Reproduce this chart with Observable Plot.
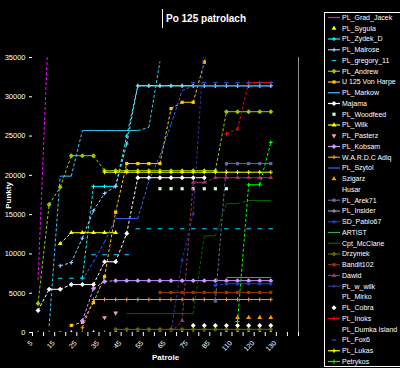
<!DOCTYPE html>
<html><head><meta charset="utf-8">
<script src="https://cdn.jsdelivr.net/npm/d3@7"></script>
<script src="https://cdn.jsdelivr.net/npm/@observablehq/plot@0.6"></script>
<style>
html,body{margin:0;padding:0;background:#000;}
#wrap{position:relative;width:400px;height:368px;overflow:hidden;background:#000;font-family:Arial,"Liberation Sans",sans-serif;color:#fff;}
#wrap svg{position:absolute;left:0;top:0;}
#title{position:absolute;left:162px;top:9px;height:19px;border-left:1px solid #fff;padding-left:3px;font-weight:bold;font-size:10px;line-height:20px;white-space:nowrap;}
#xlab{position:absolute;left:152px;top:353px;font-weight:bold;font-size:8px;}
#ylab{position:absolute;left:-8px;top:191px;width:32px;text-align:center;font-weight:bold;font-size:8px;transform:rotate(-90deg);}
</style></head><body>
<div id="wrap">
  <div id="title">Po 125 patrolach</div>
  <div id="xlab">Patrole</div>
  <div id="ylab">Punkty</div>
</div>
<script>
const _ = null;
// categories (patrol counts) and axis ticks
const patrols = [5,10,15,20,25,30,35,40,45,50,55,60,65,70,75,80,85,100,110,115,120,125,130,135];
const yTicks = [0,5000,10000,15000,20000,25000,30000,35000];

// series values, one per category (null = no point)
const gradJacek = [6700,41000,_,_,_,_,_,_,_,_,_,_,_,_,_,_,_,_,_,_,_,_,_,_];
const sygula    = [_,_,_,0,_,0,_,0,_,_,_,_,_,0,_,_,_,0,0,0,0,0,_,_];
const zydekD    = [_,_,_,_,6900,18600,18600,18600,25000,31400,31400,31400,31400,31400,31400,31400,31400,31400,31400,31400,31400,31400,_,_];
const malrose   = [_,_,8500,8900,12000,15500,17700,18600,24000,31400,31400,31400,31400,31400,31400,31400,31400,31400,31400,31400,31400,31400,_,_];
const gregory11 = [_,_,6900,6900,6900,9900,9900,9900,9900,13200,13200,13200,13200,13200,13200,13200,13200,13200,13200,13200,13200,13200,_,_];
const andrew    = [3700,16300,18500,22500,22500,22500,20600,20600,20600,20600,20600,20600,20600,20600,20600,20600,20600,28100,28100,28100,28100,28100,_,_];
const vonHarpe  = [_,_,_,900,1300,3800,7100,15300,21500,21500,21500,21500,28500,29300,29300,34400,40000,_,_,_,_,_,_,_];
const markow    = [_,800,19900,19900,25700,25700,25700,25700,25700,25700,26100,34500,_,_,_,_,_,_,_,_,_,_,_,_];
const majama    = [2800,5500,5500,6100,6100,6100,9000,9000,12600,19700,19700,19700,19700,19700,19700,19700,_,_,_,_,_,_,_,_];
const woodfeed  = [_,_,_,_,_,_,_,_,_,_,_,18300,18300,18300,18300,18300,18300,18300,_,_,_,_,_,_];
const wilk      = [_,_,11300,12700,12700,12700,12700,12700,_,_,_,_,_,_,_,_,_,_,_,_,_,_,_,_];
const pasterz   = [_,_,_,_,_,_,1900,2500,_,_,_,_,_,_,_,_,_,_,_,_,_,_,_,_];
const kobsam    = [_,_,_,_,1500,5600,6500,6600,6600,6600,6600,6600,6600,6600,6600,6600,6600,6600,6600,6600,6600,6600,_,_];
const adiq      = [_,_,_,_,600,4200,4200,4200,4200,4200,4200,4200,4200,4200,4200,4200,4200,4200,4200,4200,4200,4200,_,_];
const szytol    = [_,_,_,_,6700,9000,11500,14500,14500,14500,19300,22500,26500,30800,31400,31400,31400,31400,31400,31400,31400,31400,_,_];
const szigarz   = [_,_,_,_,_,_,_,_,_,_,_,_,_,_,_,_,_,_,1900,1900,1900,1900,_,_];
const husar     = [_,_,_,_,_,_,_,_,_,_,_,_,_,_,_,_,_,_,_,_,_,_,_,_];
const arek71    = [_,_,0,_,_,_,_,_,_,0,_,0,_,_,_,_,4000,21500,21500,21500,21500,21500,_,_];
const insider   = [0,0,_,_,0,_,0,_,0,_,0,_,_,_,0,0,_,_,_,_,_,_,_,_];
const pablo67   = [_,_,_,_,_,_,_,_,_,_,_,_,_,_,_,_,6000,6200,6200,6200,6200,6200,_,_];
const artist    = [_,_,_,_,_,_,_,_,_,_,_,_,_,_,_,_,_,7000,7000,7000,7000,7000,_,_];
const mcclane   = [_,_,_,_,_,_,_,_,2400,2400,2400,2400,2400,2400,2400,12300,12300,16400,16400,16800,16800,16800,_,_];
const drzymek   = [_,_,_,_,_,_,_,400,400,400,400,400,400,400,400,400,400,400,400,400,400,400,_,_];
const bandit102 = [_,_,_,_,_,_,_,_,_,_,_,5100,5100,5100,5100,5100,5100,5100,5100,5100,5100,5100,_,_];
const dawid     = [_,_,_,_,_,_,_,_,_,_,_,_,0,1500,19100,19100,19700,19700,19700,19700,19700,19700,_,_];
const wWilk     = [_,_,_,_,_,_,_,_,_,_,_,_,0,9200,15100,37000,_,_,_,_,_,_,_,_];
const mirko     = [_,_,_,_,_,_,_,_,_,_,_,_,_,_,_,_,_,_,_,_,_,_,_,_];
const cobra     = [_,_,_,_,_,_,_,_,_,_,_,_,_,_,900,900,900,900,900,900,900,900,_,_];
const inoks     = [_,_,_,_,_,_,_,_,_,_,_,_,_,_,_,_,_,25300,25900,31800,31800,31800,_,_];
const dumka     = [_,_,_,_,_,_,_,_,_,_,_,_,_,_,_,_,_,_,_,_,_,_,_,_];
const fox6      = [_,_,_,_,_,_,_,_,_,_,_,_,_,_,31800,31800,31800,31800,31800,31800,31800,31800,_,_];
const lukas     = [_,_,_,_,_,_,20400,20400,20400,20400,20400,20400,20400,20400,20400,20400,20400,20400,20400,20400,20400,20400,_,_];
const petrykos  = [_,_,_,_,_,_,_,_,_,_,_,_,_,_,_,_,_,_,1400,18800,18800,24200,_,_];

// custom marker shapes (size = area)
const SYM = {
  square:{draw(c,s){const w=Math.sqrt(s)/2;c.rect(-w,-w,2*w,2*w);}},
  diamond:{draw(c,s){const d=Math.sqrt(s/2)*1.1;c.moveTo(0,-d);c.lineTo(d,0);c.lineTo(0,d);c.lineTo(-d,0);c.closePath();}},
  triangle:{draw(c,s){const a=Math.sqrt(4*s/Math.sqrt(3)),h=a*Math.sqrt(3)/2;c.moveTo(0,-2*h/3);c.lineTo(a/2,h/3);c.lineTo(-a/2,h/3);c.closePath();}},
  triDown:{draw(c,s){const a=Math.sqrt(4*s/Math.sqrt(3)),h=a*Math.sqrt(3)/2;c.moveTo(0,2*h/3);c.lineTo(a/2,-h/3);c.lineTo(-a/2,-h/3);c.closePath();}},
  circle:{draw(c,s){const r=Math.sqrt(s/Math.PI);c.moveTo(r,0);c.arc(0,0,r,0,2*Math.PI);}},
  plus:{draw(c,s){const w=Math.sqrt(s)*0.6;c.moveTo(-w,0);c.lineTo(w,0);c.moveTo(0,-w);c.lineTo(0,w);}},
  dash:{draw(c,s){const w=Math.sqrt(s)*0.7;c.moveTo(-w,0);c.lineTo(w,0);}}
};
const STROKE_SYMS = new Set(["plus","dash"]);

// name, colour, marker, line
const series = [
  ["PL_Grad_Jacek","#ff00ff",null,true,gradJacek],
  ["PL_Sygula","#ffff00","triangle",false,sygula],
  ["PL_Zydek_D","#00ffff","plus",true,zydekD],
  ["PL_Malrose","#99ccff","plus",true,malrose],
  ["PL_gregory_11","#00ccff","dash",false,gregory11],
  ["PL_Andrew","#99cc00","diamond",true,andrew],
  ["U 125 Von Harpe","#ffcc00","square",true,vonHarpe],
  ["PL_Markow","#33ccff",null,true,markow],
  ["Majama","#ffffff","diamond",true,majama],
  ["PL_Woodfeed","#ccffcc","square",false,woodfeed],
  ["PL_Wilk","#ffff00","triangle",true,wilk],
  ["PL_Pasterz","#ff99cc","triDown",false,pasterz],
  ["PL_Kobsam","#cc99ff","diamond",true,kobsam],
  ["W.A.R.D.C Adiq","#ff8c33","plus",true,adiq],
  ["PL_Szytol","#3366ff",null,true,szytol],
  ["Szigarz","#ff9900","triangle",false,szigarz],
  ["Husar","#000000",null,false,husar],
  ["PL_Arek71","#666699","square",true,arek71],
  ["PL_Insider","#969696","plus",true,insider],
  ["SD_Pablo67","#1f3fbf","circle",true,pablo67],
  ["ARTIST","#33aa55",null,true,artist],
  ["Cpt_McClane","#006600",null,true,mcclane],
  ["Drzymek","#666600","diamond",true,drzymek],
  ["Bandit102","#993300","square",true,bandit102],
  ["Dawid","#993366","triangle",true,dawid],
  ["PL_w_wilk","#333399","plus",true,wWilk],
  ["PL_Mirko","#000000",null,false,mirko],
  ["PL_Cobra","#ffffff","diamond",false,cobra],
  ["PL_Inoks","#ff0000","plus",true,inoks],
  ["PL_Dumka Island","#000000",null,false,dumka],
  ["PL_Fox6","#3355cc","dash",false,fox6],
  ["PL_Lukas","#ffff00","plus",true,lukas],
  ["Petrykos","#00ff00","plus",true,petrykos]
];

const marks = [];
const xMax = patrols.length - 0.5;
marks.push(Plot.ruleX([xMax], {stroke: "#8c8c8c"}));
for (const [name, color, sym, line, vals] of series) {
  if (line) {
    const flat = [], slope = [];
    for (let k = 0; k < vals.length - 1; k++) {
      const a = vals[k], b = vals[k + 1];
      if (a == null || b == null) continue;
      (a === b ? flat : slope).push({x1: k, y1: a, x2: k + 1, y2: b});
    }
    marks.push(Plot.link(flat, {x1: "x1", y1: "y1", x2: "x2", y2: "y2", stroke: color, strokeWidth: 1, clip: true}));
    marks.push(Plot.link(slope, {x1: "x1", y1: "y1", x2: "x2", y2: "y2", stroke: color, strokeWidth: 1, strokeDasharray: "3,2", clip: true}));
  }
  if (sym) {
    const pts = vals.map((v, k) => ({k, v})).filter(d => d.v != null);
    const st = STROKE_SYMS.has(sym);
    marks.push(Plot.dot(pts, {x: "k", y: "v", symbol: SYM[sym], r: 1.8,
      fill: st ? "none" : color, stroke: st ? color : "none", strokeWidth: st ? 1.1 : 0, clip: true}));
  }
}
const xLabels = patrols.map((p, k) => ({k, label: String(p)})).filter(d => d.k % 2 === 0);
marks.push(Plot.text(xLabels, {x: "k", frameAnchor: "bottom", text: "label", rotate: -45, textAnchor: "end",
  dx: -5, dy: 11, fill: "#fff", fontSize: 7}));

const boundaries = d3.range(-0.5, patrols.length, 1);
const chart = Plot.plot({
  width: 400, height: 368,
  marginLeft: 32, marginRight: 102, marginTop: 57, marginBottom: 36,
  style: {background: "#000", color: "#fff", fontFamily: "Arial, 'Liberation Sans', sans-serif", fontSize: "7.5px"},
  x: {domain: [-0.5, xMax], ticks: boundaries, tickFormat: () => "", tickSize: 4, label: null},
  y: {domain: [0, 35000], ticks: yTicks, tickFormat: d => String(d), tickSize: 3, tickPadding: 4, label: null},
  marks
});
const wrap = document.getElementById("wrap");
wrap.insertBefore(chart, wrap.firstChild);

// legend
const lg = d3.select(wrap).append("svg").attr("width", 400).attr("height", 368)
  .style("font-family", "Arial, 'Liberation Sans', sans-serif");
lg.append("rect").attr("x", 324.5).attr("y", 12.5).attr("width", 90).attr("height", 354)
  .attr("fill", "#000").attr("stroke", "#fff");
series.forEach(([name, color, sym, line], i) => {
  const y = 17.5 + i * 10.75;
  const g = lg.append("g").attr("transform", `translate(0,${y})`);
  if (line) g.append("line").attr("x1", 328).attr("x2", 340).attr("stroke", color).attr("stroke-width", 1.2);
  if (sym) {
    const st = STROKE_SYMS.has(sym);
    g.append("path").attr("transform", "translate(334,0)")
      .attr("d", d3.symbol(SYM[sym], 10.2)())
      .attr("fill", st ? "none" : color).attr("stroke", st ? color : "none").attr("stroke-width", 1.1);
  }
  g.append("text").attr("x", 342).attr("dy", "0.35em").attr("fill", "#fff").attr("font-size", 7).text(name);
});
</script>
</body></html>
